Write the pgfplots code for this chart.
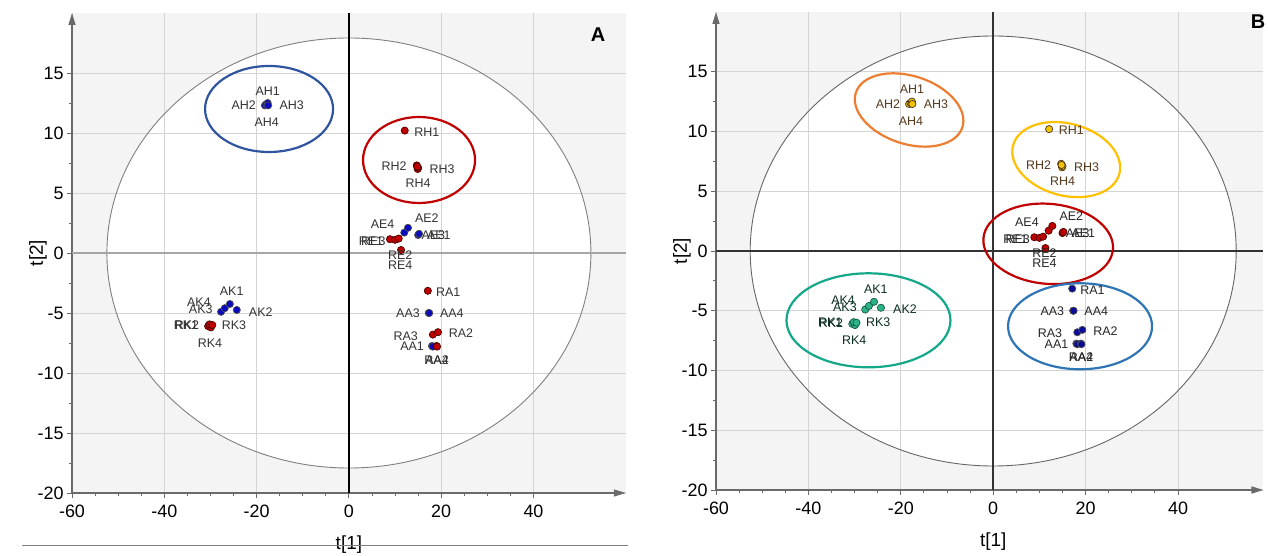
\documentclass[border=0pt]{standalone}
\usepackage{pgfplots}
\pgfplotsset{compat=1.18}
\usepackage{fontspec}
\setmainfont{Liberation Sans}
\usetikzlibrary{arrows.meta}

\definecolor{bgray}{HTML}{F4F4F4}
\definecolor{gridc}{HTML}{D4D4D4}
\definecolor{axc}{HTML}{6A6A6A}
\definecolor{pblue}{HTML}{0A0ABF}
\definecolor{pred}{HTML}{C00000}
\definecolor{ellblue}{HTML}{2F55A0}
\definecolor{gold}{HTML}{F5C400}
\definecolor{orng}{HTML}{ED7D31}
\definecolor{goldring}{HTML}{FFC000}
\definecolor{navy}{HTML}{0A0A9A}
\definecolor{steel}{HTML}{2E75B6}
\definecolor{teal}{HTML}{2BB389}
\definecolor{tealring}{HTML}{14A88A}

\pgfplotsset{
  pca/.style={
    xmin=-60, ymin=-20, ymax=20,
    enlargelimits=false,
    axis lines=left,
    axis line style={-{Triangle[length=12bp,width=7bp]}, draw=axc, line width=1.3bp},
    xtick={-60,-40,...,40}, ytick={-20,-15,...,15},
    minor x tick num=3, minor y tick num=1,
    tick align=outside,
    major tick length=5bp, minor tick length=3bp,
    every tick/.style={axc, line width=0.9bp},
    grid=major, grid style={gridc, line width=0.9bp},
    ticklabel style={font=\fontsize{18}{20}\selectfont, text=black},
    /pgf/number format/assume math mode=true,
    xticklabel style={yshift=-3bp},
    xlabel={t[1]}, ylabel={t[2]},
    every axis x label/.style={at={(axis cs:0,-20)}, anchor=center, yshift=-52bp,
      font=\fontsize{19}{21}\selectfont},
    every axis y label/.style={at={(axis cs:-60,0)}, anchor=center, rotate=90, yshift=34bp,
      font=\fontsize{19}{21}\selectfont},
    clip=false, set layers,
    anchor=south west,
  },
  lbl/.style={only marks, mark=none, nodes near coords, point meta=explicit symbolic,
    every node near coord/.append style={anchor=center, inner sep=0pt,
      font=\fontsize{12.5}{13}\selectfont, text=#1}},
  dot/.style 2 args={only marks, mark=*, mark size=3.6bp,
    mark options={fill=#1, draw=#2, line width=0.7bp}},
}

\begin{document}
\begin{tikzpicture}

%% ---------------- panel A ----------------
\begin{axis}[pca, at={(72bp,63bp)}, x=4.615bp, y=12bp, xmax=60]
\begin{pgfonlayer}{axis background}
  \fill[bgray] (axis cs:-60,-20) rectangle (axis cs:60,20);
  \fill[white] (axis cs:0,0) ellipse [x radius=242bp, y radius=215bp];
\end{pgfonlayer}
\draw[gray, line width=0.9bp] (axis cs:0,0) ellipse [x radius=242bp, y radius=215bp];
\draw[gray!70, line width=1.6bp] (axis cs:-60,0) -- (axis cs:60,0);
\draw[black, line width=1.6bp] (axis cs:0,-20) -- (axis cs:0,20);
\draw[ellblue, line width=2.2bp] (axis cs:-17.3,12.0) ellipse [x radius=64bp, y radius=43bp];
\draw[pred, line width=2.2bp] (axis cs:15.2,7.75) ellipse [x radius=56bp, y radius=43bp];

% A samples (blue)
\addplot[dot={pblue}{black!70}] table {
x y
-18.2 12.3
-17.9 12.4
-17.6 12.5
-17.5 12.3
12.0 1.7
12.8 2.1
15.0 1.5
15.2 1.6
17.3 -5.0
17.4 -5.0
18.0 -7.75
18.2 -7.8
-27.7 -4.9
-26.9 -4.6
-25.8 -4.25
-24.3 -4.75
};
% R samples (red)
\addplot[dot={pred}{black!60!pred}] table {
x y
12.1 10.2
14.7 7.3
14.9 7.0
15.0 7.1
14.8 7.2
8.9 1.15
10.0 1.1
10.8 1.2
11.3 0.25
17.1 -3.15
18.2 -6.8
19.3 -6.6
19.0 -7.75
19.1 -7.8
-30.5 -6.1
-29.9 -6.2
-30.2 -5.95
-29.6 -6.0
};
\addplot[lbl={black!80}] table[meta=l] {
x y l
-17.6 13.5 AH1
-22.8 12.3 AH2
-12.4 12.3 AH3
-17.8 10.9 AH4
16.9 10.1 RH1
9.8 7.2 RH2
20.2 7.0 RH3
15.0 5.8 RH4
7.3 2.4 AE4
16.9 2.9 AE2
18.3 1.5 AE3
19.5 1.5 AE1
4.8 1.0 RE1
5.3 1.0 RE3
11.1 -0.15 RE2
11.1 -1.0 RE4
21.5 -3.25 RA1
12.8 -5.0 AA3
22.3 -5.0 AA4
12.3 -6.9 RA3
24.3 -6.7 RA2
13.7 -7.8 AA1
19.0 -8.9 RA4
19.1 -8.9 AA2
-25.4 -3.2 AK1
-32.5 -4.1 AK4
-32.1 -4.7 AK3
-19.1 -4.9 AK2
-35.3 -6.0 RK1
-35.1 -6.0 RK2
-24.9 -6.0 RK3
-30.1 -7.5 RK4
};
\end{axis}
\draw[gray, line width=0.9bp] (22bp,11bp) -- (628bp,11bp);
\node[font=\bfseries\fontsize{20}{22}\selectfont] at (598bp,521bp) {A};

%% ---------------- panel B ----------------
\begin{axis}[pca, at={(716bp,66bp)}, x=4.62bp, y=11.95bp, xmax=58.5]
\begin{pgfonlayer}{axis background}
  \fill[bgray] (axis cs:-60,-20) rectangle (axis cs:58.5,20);
  \fill[white] (axis cs:0,0) ellipse [x radius=243bp, y radius=215bp];
\end{pgfonlayer}
\draw[gray!80!black, line width=0.9bp] (axis cs:0,0) ellipse [x radius=243bp, y radius=215bp];
\draw[black!80, line width=1.2bp] (axis cs:-60,0) -- (axis cs:58.5,0);
\draw[black!80, line width=1.6bp] (axis cs:0,-20) -- (axis cs:0,20);
\draw[orng, line width=2.2bp, rotate around={-18:(axis cs:-18.2,11.8)}] (axis cs:-18.2,11.8) ellipse [x radius=56bp, y radius=34bp];
\draw[goldring, line width=2.2bp, rotate around={-15:(axis cs:15.8,7.65)}] (axis cs:15.8,7.65) ellipse [x radius=55bp, y radius=36bp];
\draw[pred, line width=2.2bp, rotate around={-5:(axis cs:11.9,0.6)}] (axis cs:11.9,0.6) ellipse [x radius=65bp, y radius=40bp];
\draw[steel, line width=2.2bp] (axis cs:18.8,-6.3) ellipse [x radius=72bp, y radius=43bp];
\draw[tealring, line width=2.2bp] (axis cs:-27,-5.8) ellipse [x radius=82bp, y radius=47bp];

% AH and RH (gold)
\addplot[dot={gold}{black!60!brown}] table {
x y
-18.2 12.3
-17.9 12.4
-17.6 12.5
-17.5 12.3
12.1 10.2
14.7 7.3
14.9 7.0
15.0 7.1
14.8 7.2
};
% AE and RE (dark red)
\addplot[dot={pred}{black!60!pred}] table {
x y
12.0 1.7
12.8 2.1
15.0 1.5
15.2 1.6
8.9 1.15
10.0 1.1
10.8 1.2
11.3 0.25
};
% AA and RA (navy)
\addplot[dot={navy}{black!70}] table {
x y
17.3 -5.0
17.4 -5.0
18.0 -7.75
18.2 -7.8
17.1 -3.15
18.2 -6.8
19.3 -6.6
19.0 -7.75
19.1 -7.8
};
% AK and RK (teal)
\addplot[dot={teal}{black!50!teal}] table {
x y
-27.7 -4.9
-26.9 -4.6
-25.8 -4.25
-24.3 -4.75
-30.5 -6.1
-29.9 -6.2
-30.2 -5.95
-29.6 -6.0
};
\addplot[lbl={black!55!brown}] table[meta=l] {
x y l
-17.6 13.5 AH1
-22.8 12.3 AH2
-12.4 12.3 AH3
-17.8 10.9 AH4
16.9 10.1 RH1
9.8 7.2 RH2
20.2 7.0 RH3
15.0 5.8 RH4
};
\addplot[lbl={black!85}] table[meta=l] {
x y l
7.3 2.4 AE4
16.9 2.9 AE2
18.3 1.5 AE3
19.5 1.5 AE1
4.8 1.0 RE1
5.3 1.0 RE3
11.1 -0.15 RE2
11.1 -1.0 RE4
21.5 -3.25 RA1
12.8 -5.0 AA3
22.3 -5.0 AA4
12.3 -6.9 RA3
24.3 -6.7 RA2
13.7 -7.8 AA1
19.0 -8.9 RA4
19.1 -8.9 AA2
};
\addplot[lbl={black!75!teal}] table[meta=l] {
x y l
-25.4 -3.2 AK1
-32.5 -4.1 AK4
-32.1 -4.7 AK3
-19.1 -4.9 AK2
-35.3 -6.0 RK1
-35.1 -6.0 RK2
-24.9 -6.0 RK3
-30.1 -7.5 RK4
};
\end{axis}
\node[font=\bfseries\fontsize{20}{22}\selectfont] at (1258bp,534bp) {B};
\pgfresetboundingbox
\path[use as bounding box] (0,0) rectangle (1268bp,556bp);
\end{tikzpicture}
\end{document}
